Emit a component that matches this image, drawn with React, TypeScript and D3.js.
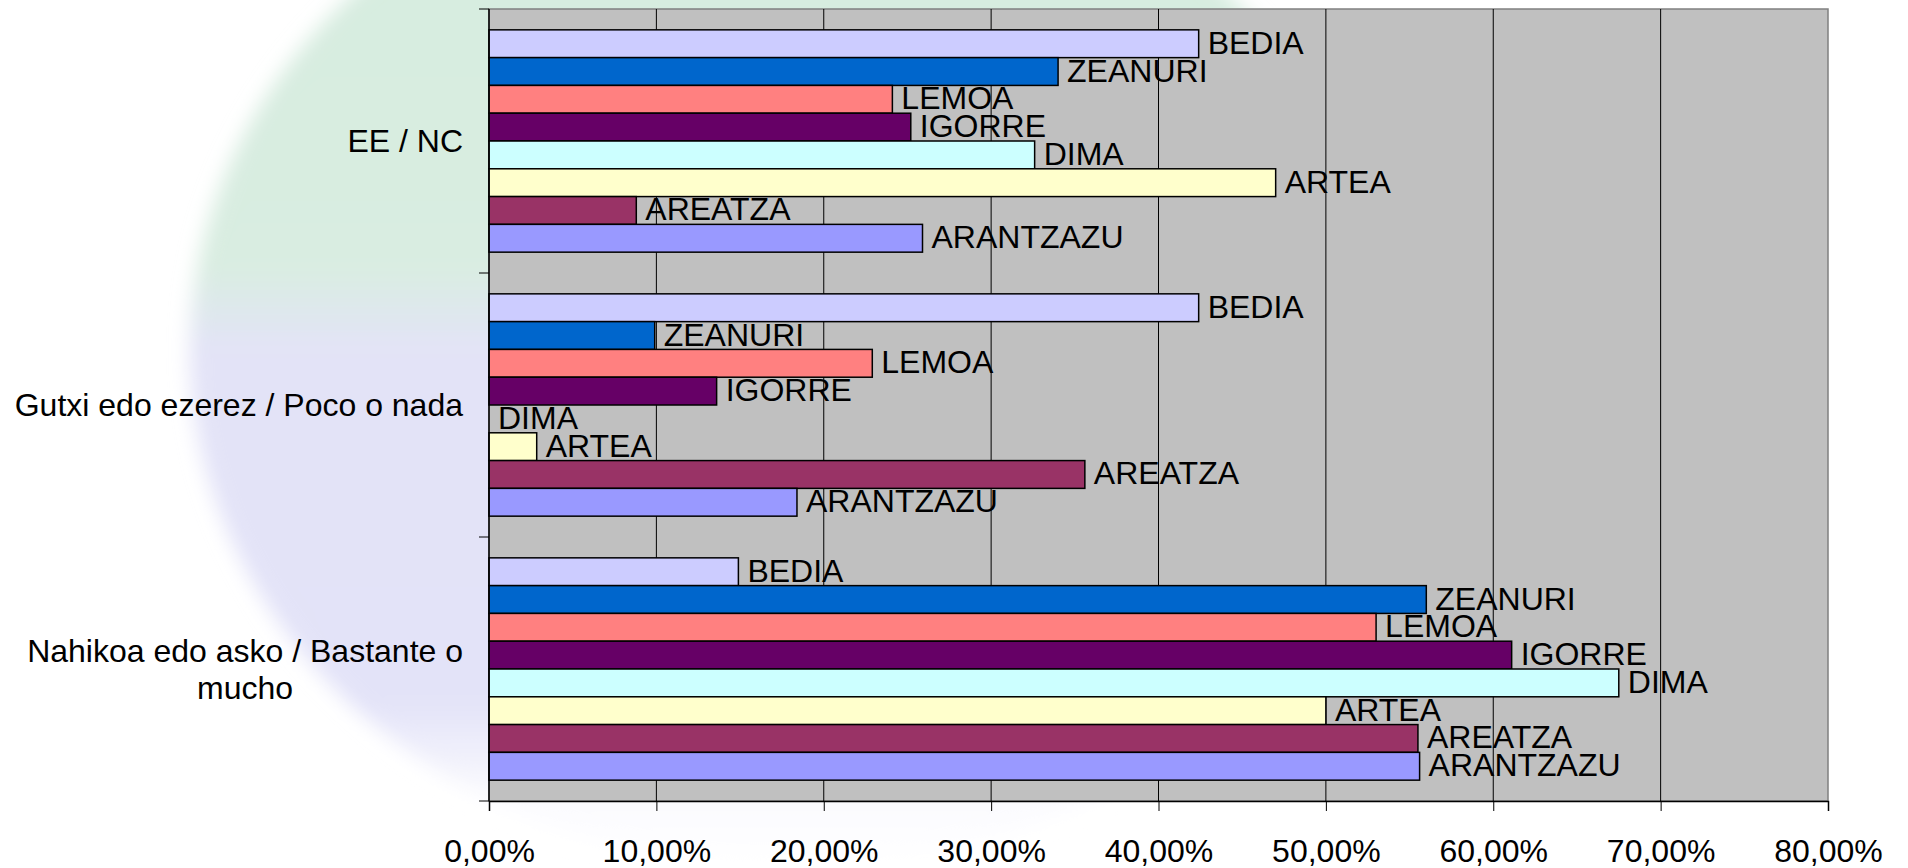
import React, { useEffect, useRef } from "react";
import * as d3 from "d3";

const categories = [
  "EE / NC",
  "Gutxi edo ezerez / Poco o nada",
  "Nahikoa edo asko / Bastante o mucho",
];
const towns = ["BEDIA", "ZEANURI", "LEMOA", "IGORRE", "DIMA", "ARTEA", "AREATZA", "ARANTZAZU"];
const townColors = ["#CCCCFF", "#0066CC", "#FF8080", "#660066", "#CCFFFF", "#FFFFCC", "#993366", "#9999FF"];

// percentages per town, same order as towns
const eeNc = [42.4, 34.0, 24.1, 25.2, 32.6, 47.0, 8.8, 25.9];
const gutxi = [42.4, 9.9, 22.9, 13.6, 0, 2.85, 35.6, 18.4];
const nahikoa = [14.9, 56.0, 53.0, 61.1, 67.5, 50.0, 55.5, 55.6];
const xTicks = [0, 10, 20, 30, 40, 50, 60, 70, 80];

const W = 1908;
const H = 868;
const FONT = "'Liberation Sans', Arial, sans-serif";
const FS = 32;

const App = () => {
  const chart = useRef<SVGSVGElement>(null);

  useEffect(() => {
    const svg = d3.select(chart.current);
    svg.selectAll("*").remove();

    const left = 489, right = 1828, top = 9, bottom = 801;
    const x = d3.scaleLinear().domain([0, 80]).range([left, right]);
    const y = d3.scaleBand().domain(categories).range([top, bottom]).padding(0);
    const yIn = d3
      .scaleBand()
      .domain(towns)
      .range([0, y.bandwidth()])
      .paddingInner(0)
      .paddingOuter(0.75);

    const table = categories.map((c, i) => ({
      cat: c,
      values: [eeNc, gutxi, nahikoa][i].map((v, j) => ({ town: towns[j], value: v, color: townColors[j] })),
    }));

    // decorative background shape behind the chart
    const defs = svg.append("defs");
    const grad = defs
      .append("linearGradient")
      .attr("id", "bgGrad")
      .attr("x1", 0).attr("y1", 0).attr("x2", 0).attr("y2", 1);
    grad.append("stop").attr("offset", "0%").attr("stop-color", "#D6ECDF");
    grad.append("stop").attr("offset", "42%").attr("stop-color", "#D9EDE1");
    grad.append("stop").attr("offset", "50%").attr("stop-color", "#E3E3F7");
    grad.append("stop").attr("offset", "84%").attr("stop-color", "#E3E3F8");
    grad.append("stop").attr("offset", "93%").attr("stop-color", "#FBFBFE");
    grad.append("stop").attr("offset", "100%").attr("stop-color", "#FFFFFF");
    defs
      .append("filter")
      .attr("id", "soft")
      .attr("x", "-20%").attr("y", "-20%").attr("width", "140%").attr("height", "140%")
      .append("feGaussianBlur")
      .attr("stdDeviation", 10);

    svg
      .append("ellipse")
      .attr("cx", 790)
      .attr("cy", 350)
      .attr("rx", 600)
      .attr("ry", 520)
      .attr("fill", "url(#bgGrad)")
      .attr("filter", "url(#soft)");

    // plot area
    svg
      .append("rect")
      .attr("x", left)
      .attr("y", top)
      .attr("width", right - left)
      .attr("height", bottom - top)
      .attr("fill", "#C0C0C0")
      .attr("stroke", "#808080")
      .attr("stroke-width", 1.5);

    svg
      .append("g")
      .selectAll("line")
      .data(xTicks.slice(1, -1))
      .enter()
      .append("line")
      .attr("x1", (d) => x(d))
      .attr("x2", (d) => x(d))
      .attr("y1", top)
      .attr("y2", bottom)
      .attr("stroke", "#000")
      .attr("stroke-width", 1);

    // bars
    const groups = svg
      .append("g")
      .selectAll("g")
      .data(table)
      .enter()
      .append("g")
      .attr("transform", (d) => "translate(0," + y(d.cat) + ")");

    groups
      .selectAll("rect")
      .data((d) => d.values.filter((v) => v.value > 0))
      .enter()
      .append("rect")
      .attr("x", x(0))
      .attr("y", (d) => yIn(d.town)!)
      .attr("width", (d) => x(d.value) - x(0))
      .attr("height", yIn.bandwidth())
      .attr("fill", (d) => d.color)
      .attr("stroke", "#000")
      .attr("stroke-width", 1.5);

    groups
      .selectAll("text")
      .data((d) => d.values)
      .enter()
      .append("text")
      .attr("x", (d) => x(d.value) + 9)
      .attr("y", (d) => yIn(d.town)! + yIn.bandwidth() / 2 + 10)
      .attr("font-family", FONT)
      .attr("font-size", FS)
      .attr("fill", "#000")
      .text((d) => d.town);

    // axes
    const axisX = svg
      .append("g")
      .attr("transform", "translate(0," + bottom + ")")
      .call(
        d3
          .axisBottom(x)
          .tickValues(xTicks)
          .tickSize(10)
          .tickPadding(28)
          .tickFormat((d) => d3.format(".2f")(+d).replace(".", ",") + "%")
      );
    axisX.select(".domain").attr("stroke", "#000").attr("stroke-width", 1.5);
    axisX.selectAll("line").attr("stroke", "#000");
    axisX.selectAll("text").attr("font-family", FONT).attr("font-size", FS).attr("fill", "#000");

    const yTickPos = [top, ...categories.map((c) => y(c)! + y.bandwidth())];
    svg
      .append("line")
      .attr("x1", left)
      .attr("x2", left)
      .attr("y1", top)
      .attr("y2", bottom)
      .attr("stroke", "#000")
      .attr("stroke-width", 1.5);
    svg
      .append("g")
      .selectAll("line")
      .data(yTickPos)
      .enter()
      .append("line")
      .attr("x1", left - 10)
      .attr("x2", left)
      .attr("y1", (d) => d)
      .attr("y2", (d) => d)
      .attr("stroke", "#000");

    // category labels, wrapped and centred as a block right-aligned at 463
    const labelRight = 463;
    const maxWidth = 455;
    categories.forEach((c) => {
      const t = svg
        .append("text")
        .attr("font-family", FONT)
        .attr("font-size", FS)
        .attr("fill", "#000")
        .attr("text-anchor", "middle");
      const words = c.split(" ");
      const lines: string[] = [];
      let line: string[] = [];
      const probe = t.append("tspan");
      words.forEach((w) => {
        line.push(w);
        probe.text(line.join(" "));
        if ((probe.node() as SVGTSpanElement).getComputedTextLength() > maxWidth && line.length > 1) {
          line.pop();
          lines.push(line.join(" "));
          line = [w];
        }
      });
      lines.push(line.join(" "));
      probe.remove();

      const widths = lines.map((l) => {
        const p = t.append("tspan").text(l);
        const wdt = (p.node() as SVGTSpanElement).getComputedTextLength();
        p.remove();
        return wdt;
      });
      const cx = labelRight - d3.max(widths)! / 2;
      const lh = 37;
      const cy = y(c)! + y.bandwidth() / 2 + 11 - ((lines.length - 1) * lh) / 2;
      lines.forEach((l, i) => {
        t.append("tspan").attr("x", cx).attr("y", cy + i * lh).text(l);
      });
    });
  }, []);

  return (
    <div style={{ position: "absolute", left: 0, top: 0, width: W, height: H, background: "#fff" }}>
      <svg ref={chart} width={W} height={H} style={{ display: "block" }}></svg>
    </div>
  );
};

export default App;
